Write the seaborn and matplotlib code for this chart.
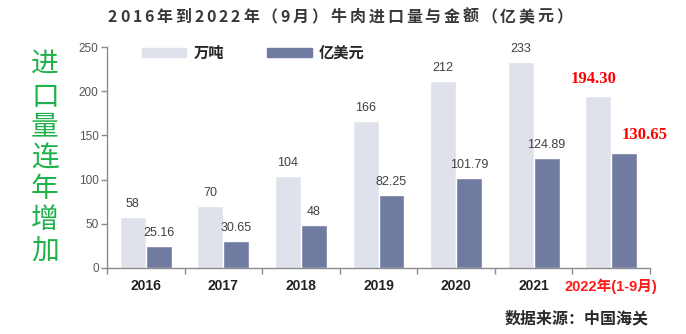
import matplotlib
matplotlib.use("Agg")
import matplotlib.pyplot as plt
import matplotlib.patches as mpatches
import seaborn as sns
import pandas as pd

years = ["2016", "2017", "2018", "2019", "2020", "2021", "2022年(1-9月)"]
volume_wt = [58, 70, 104, 166, 212, 233, 194.30]          # 万吨
value_usd = [25.16, 30.65, 48, 82.25, 101.79, 124.89, 130.65]  # 亿美元
volume_labels = ["58", "70", "104", "166", "212", "233", "194.30"]
value_labels = ["25.16", "30.65", "48", "82.25", "101.79", "124.89", "130.65"]
series_names = ["万吨", "亿美元"]
yticks = [0, 50, 100, 150, 200, 250]
title = "2016年到2022年（9月）牛肉进口量与金额（亿美元）"

light = "#dfe2eb"
dark = "#707ba1"

sns.set_theme(style="white")
plt.rcParams["font.family"] = ["Liberation Sans", "Noto Sans CJK SC", "DejaVu Sans"]
CJK = ["Noto Sans CJK SC", "DejaVu Sans"]

df = pd.DataFrame({
    "year": years * 2,
    "series": [series_names[0]] * len(years) + [series_names[1]] * len(years),
    "value": volume_wt + value_usd,
})

fig = plt.figure(figsize=(6.86, 3.34), dpi=100)
ax = fig.add_axes([107 / 686, 1 - 267.7 / 334, 543 / 686, 220.4 / 334])

sns.barplot(data=df, x="year", y="value", hue="series", order=years,
            hue_order=series_names, palette=[light, dark], width=0.67,
            saturation=1, legend=False, ax=ax, errorbar=None)

ax.set_xlim(-0.5, len(years) - 0.5)
ax.set_ylim(0, 250)
ax.set_yticks(yticks)
ax.set_xlabel("")
ax.set_ylabel("")

for s in ["top", "right"]:
    ax.spines[s].set_visible(False)
for s in ["left", "bottom"]:
    ax.spines[s].set_color("#8c8c8c")
    ax.spines[s].set_linewidth(1.0)

ax.tick_params(axis="y", which="major", left=True, length=4, width=1,
               color="#8c8c8c", labelsize=8.5, labelcolor="#555555", pad=2)
ax.set_xticks(range(len(years)))
ax.set_xticklabels(years)
ax.tick_params(axis="x", which="major", length=0, pad=8)
ax.set_xticks([i - 0.5 for i in range(len(years) + 1)], minor=True)
ax.tick_params(axis="x", which="minor", bottom=True, length=4, width=1,
               color="#8c8c8c")
for i, lab in enumerate(ax.get_xticklabels()):
    lab.set_fontweight("bold")
    if i == len(years) - 1:
        lab.set_fontsize(10.5)
        lab.set_color("#ff1a1a")
        lab.set_family(["Liberation Sans", "Noto Sans CJK SC"])
    else:
        lab.set_fontsize(10)
        lab.set_color("#222222")

# value labels above each bar
bars_light = ax.containers[0]
bars_dark = ax.containers[1]
last = len(years) - 1
for i, (bl, bd) in enumerate(zip(bars_light, bars_dark)):
    if i == last:
        ax.annotate(volume_labels[i], (bl.get_x() + bl.get_width() / 2, bl.get_height()),
                    xytext=(-3, 7), textcoords="offset points", ha="center", va="bottom",
                    fontsize=12, fontweight="bold", color="#ff0000",
                    family="Liberation Serif")
        ax.annotate(value_labels[i], (bd.get_x() + bd.get_width() / 2, bd.get_height()),
                    xytext=(15, 7), textcoords="offset points", ha="center", va="bottom",
                    fontsize=12, fontweight="bold", color="#ff0000",
                    family="Liberation Serif")
    else:
        ax.annotate(volume_labels[i], (bl.get_x() + bl.get_width() / 2, bl.get_height()),
                    xytext=(0, 5), textcoords="offset points", ha="center", va="bottom",
                    fontsize=9, color="#404040")
        ax.annotate(value_labels[i], (bd.get_x() + bd.get_width() / 2, bd.get_height()),
                    xytext=(0, 5), textcoords="offset points", ha="center", va="bottom",
                    fontsize=9, color="#404040")

# legend with wide flat patches
handles = [mpatches.Patch(color=light), mpatches.Patch(color=dark)]
leg = fig.legend(handles, series_names, loc="center left",
                 bbox_to_anchor=(142 / 686, 1 - 53 / 334), ncol=2, frameon=False,
                 borderaxespad=0, borderpad=0, handlelength=2.9, handleheight=0.6,
                 handletextpad=0.5, columnspacing=2.8,
                 prop={"family": CJK, "size": 11, "weight": "bold"})

# letter-spaced title: place each character with extra tracking
renderer = fig.canvas.get_renderer()
title_kw = dict(fontsize=11.5, color="#383838", family=CJK, fontweight="bold")
tracking = 2.8  # px between characters
probe = fig.text(0, 0, "|", **title_kw)
probe_w = probe.get_window_extent(renderer).width
probe.remove()

def prefix_width(s):
    t = fig.text(0, 0, s + "|", **title_kw)
    w = t.get_window_extent(renderer).width - probe_w
    t.remove()
    return w

offsets = [prefix_width(title[:i]) + i * tracking for i in range(len(title))]
total = prefix_width(title) + (len(title) - 1) * tracking
x0 = 340 - total / 2
W, H = fig.get_size_inches() * fig.dpi
for ch, off in zip(title, offsets):
    fig.text((x0 + off) / W, 1 - 17 / H, ch, ha="left", va="center", **title_kw)

fig.text(45 / 686, 1 - 158 / 334, "\n".join("进口量连年增加"), ha="center", va="center",
         fontsize=20, color="#1fb24a", family=CJK, linespacing=1.05)

fig.text(577 / 686, 1 - 318 / 334, "数据来源：中国海关", ha="center", va="center",
         fontsize=11.5, color="#2a2a2a", family=CJK, fontweight="bold")

fig.savefig("out.png", dpi=100)
